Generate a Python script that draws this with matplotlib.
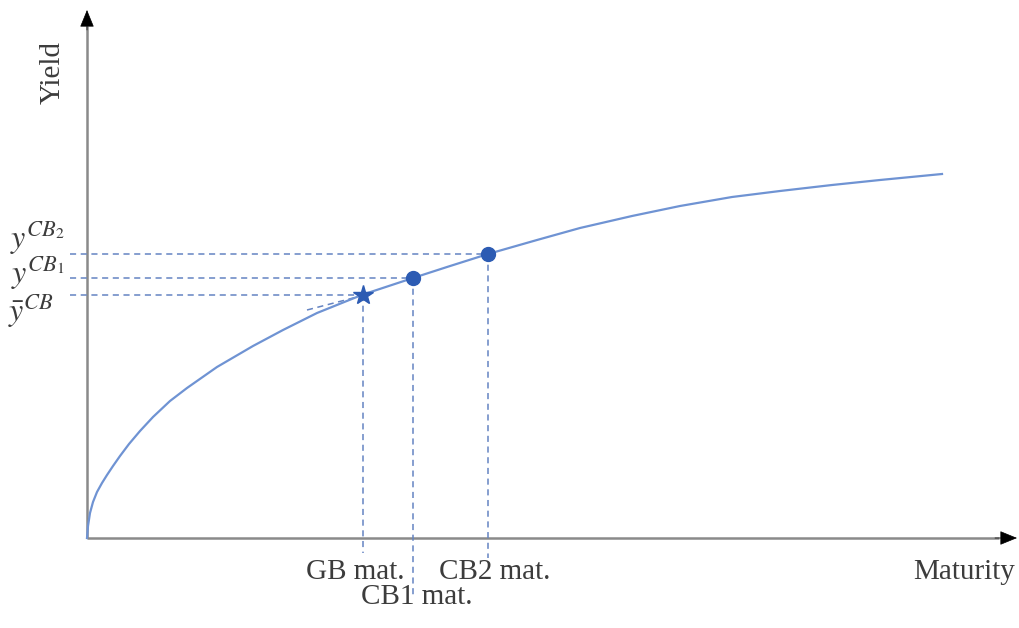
import matplotlib
matplotlib.use('Agg')
import matplotlib.pyplot as plt

plt.rcParams['font.family'] = ['Liberation Serif', 'DejaVu Serif']
plt.rcParams['mathtext.fontset'] = 'stix'

# yield curve (maturity, yield), origin at the axes corner
curve_x = [0, 1, 3, 6, 10, 15, 20, 26, 33, 42, 53, 66, 83, 100, 130, 166, 196, 230,
           276, 326, 360, 401, 450, 493, 545, 593, 645, 693, 745, 793, 855]
curve_y = [0, 12, 25, 36, 46, 55, 63, 72, 82, 94, 107, 121, 137, 150, 171, 192, 208, 225,
           243.5, 260, 271, 284, 298, 310, 322, 332, 341, 347, 353, 358, 364]

# bonds
gb_mat, gb_yield = 276, 243.5
cb_mats = [326, 401]
cb_yields = [260, 284]

# short dashed tangent hint near the GB star
tangent_x = [220, 270]
tangent_y = [228, 241]

line_col = '#6f93d3'
mark_col = '#2c5bb3'
dash_col = '#6584c2'
txt_col = '#3c3c3c'

fig = plt.figure(figsize=(10.19, 6.28), dpi=100)
ax = fig.add_axes([0, 0, 1, 1])
ax.set_xlim(-87, 932)
ax.set_ylim(-90, 538)
ax.axis('off')

# axes with arrow heads
ax.plot([0, 0], [0, 512], color='#8a8a8a', lw=1.8, solid_capstyle='butt')
ax.plot([0, 912], [0, 0], color='#8a8a8a', lw=1.8, solid_capstyle='butt')
ax.annotate('', xy=(0, 528), xytext=(0, 508),
            arrowprops=dict(arrowstyle='-|>,head_length=1.1,head_width=0.45',
                            color='black', lw=0.5, shrinkA=0, shrinkB=0))
ax.annotate('', xy=(930, 0), xytext=(908, 0),
            arrowprops=dict(arrowstyle='-|>,head_length=1.1,head_width=0.45',
                            color='black', lw=0.5, shrinkA=0, shrinkB=0))

# dashed guide lines
dash = dict(color=dash_col, lw=1.1, ls=(0, (4, 3)))
ax.plot([-17, gb_mat], [gb_yield, gb_yield], **dash)
ax.plot([gb_mat, gb_mat], [gb_yield, -15], **dash)
ax.plot([-17, cb_mats[0]], [cb_yields[0], cb_yields[0]], **dash)
ax.plot([cb_mats[0], cb_mats[0]], [cb_yields[0], -57], **dash)
ax.plot([-17, cb_mats[1]], [cb_yields[1], cb_yields[1]], **dash)
ax.plot([cb_mats[1], cb_mats[1]], [cb_yields[1], -20], **dash)
ax.plot(tangent_x, tangent_y, **dash)

# curve and points
ax.plot(curve_x, curve_y, color=line_col, lw=1.6, solid_joinstyle='round')
ax.plot(cb_mats, cb_yields, 'o', color=mark_col, ms=10, zorder=5)
ax.plot([gb_mat], [gb_yield], '*', color=mark_col, ms=15, zorder=5)

# labels
fs = 21
ax.text(268, -34, 'GB mat.', fontsize=fs, color=txt_col, ha='center', va='center')
ax.text(408, -34, 'CB2 mat.', fontsize=fs, color=txt_col, ha='center', va='center')
ax.text(330, -59, 'CB1 mat.', fontsize=fs, color=txt_col, ha='center', va='center')
ax.text(928, -34, 'Maturity', fontsize=fs, color=txt_col, ha='right', va='center')
ax.text(-34, 466, 'Yield', fontsize=fs, color=txt_col, ha='center', va='center',
        rotation=90)

ax.text(-22, 300, r'$y^{CB_2}$', fontsize=23, color=txt_col, ha='right', va='center')
ax.text(-22, 265, r'$y^{CB_1}$', fontsize=23, color=txt_col, ha='right', va='center')
ax.text(-33, 227, r'$\bar{y}^{CB}$', fontsize=23, color=txt_col, ha='right', va='center')

fig.savefig('out.png', dpi=100)
